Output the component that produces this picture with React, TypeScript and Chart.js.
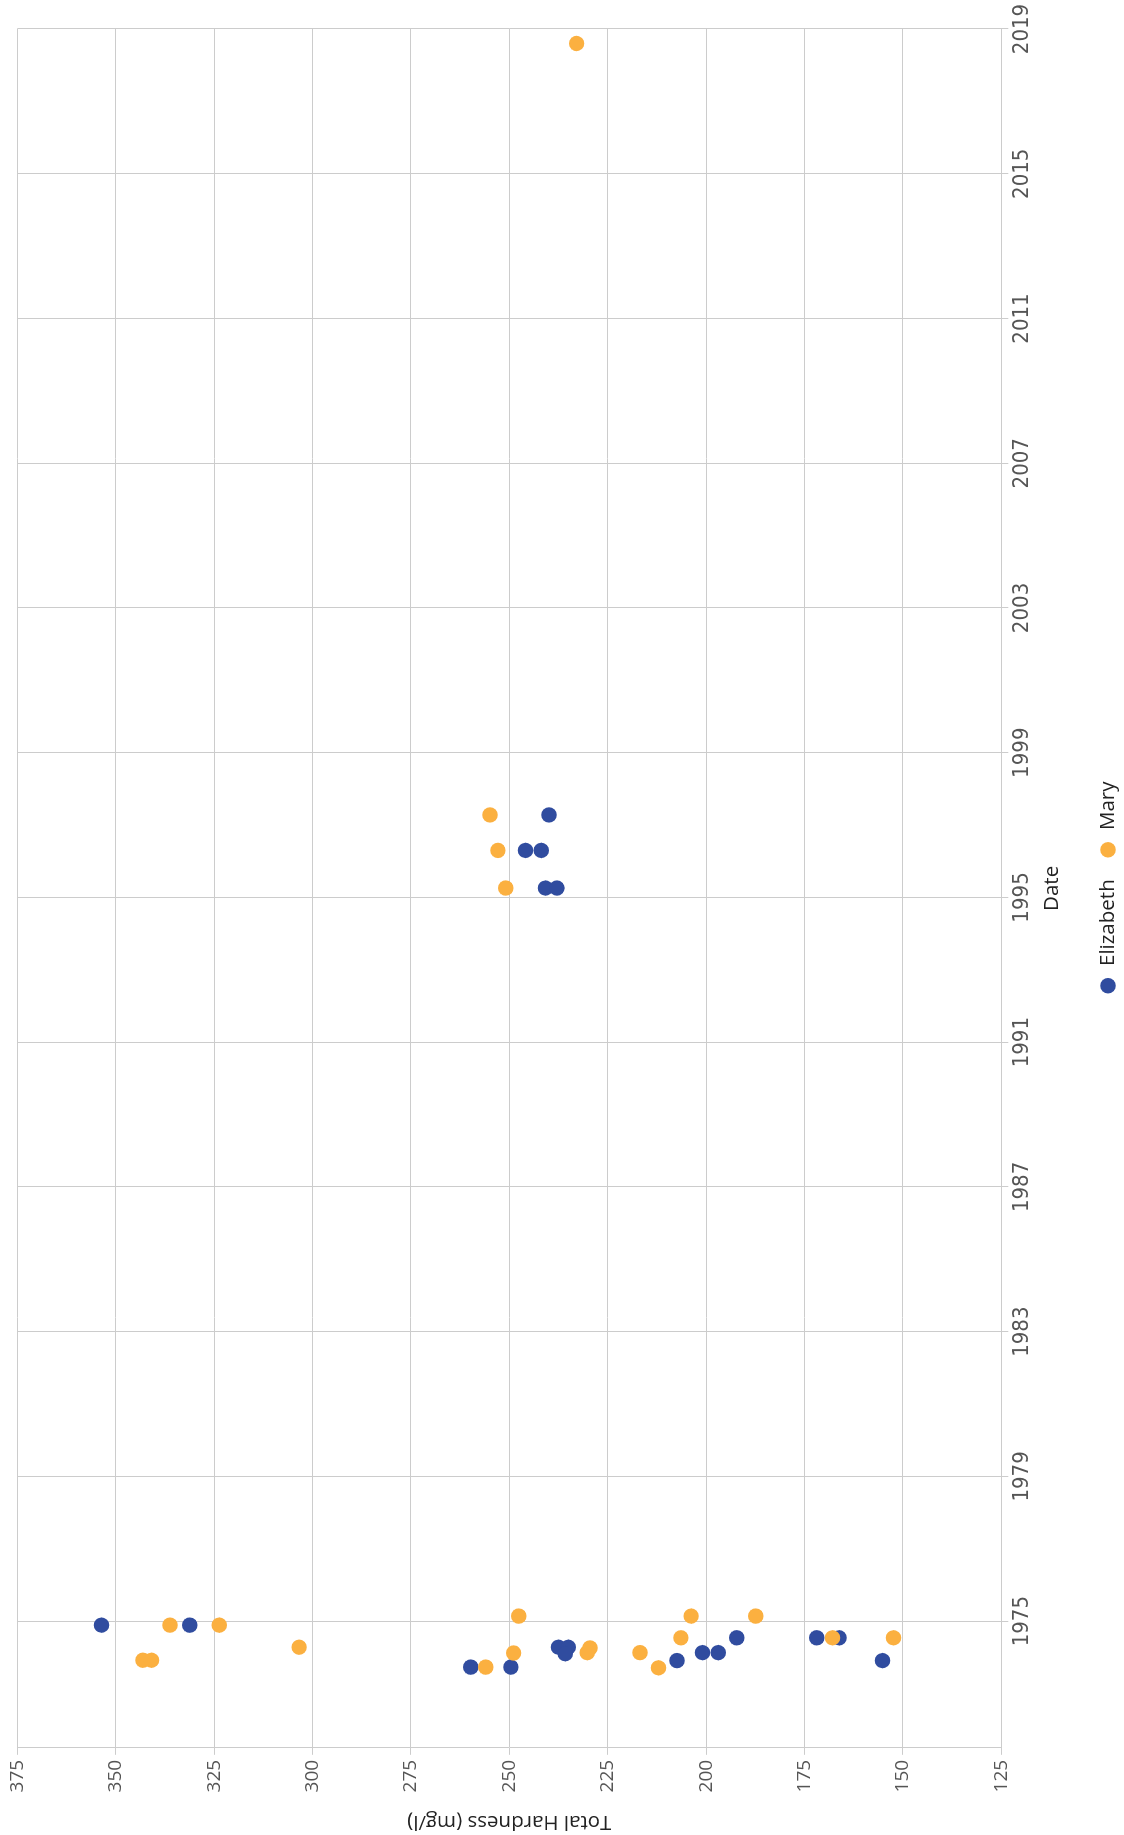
import React, { useEffect, useRef } from 'react';
import { Chart, registerables } from 'chart.js';

Chart.register(...registerables);

// Series names and colours
const seriesNames = ['Elizabeth', 'Mary'];
const seriesColors = ['#304c9f', '#fbb040'];

// Elizabeth: sample date (decimal year) and total hardness (mg/l)
const elizabethDates = [
  1974.89, 1974.89, 1973.73, 1973.73, 1974.28, 1974.28, 1974.10, 1973.91, 1974.13, 1974.13,
  1974.54, 1974.54, 1974.54, 1973.91, 1997.28, 1996.30, 1996.30, 1995.26, 1995.26,
];
const elizabethHardness = [
  353.6, 331.2, 259.8, 249.6, 237.5, 235.0, 235.8, 207.4, 200.9, 196.9,
  192.2, 171.9, 166.2, 155.2, 239.9, 245.9, 241.9, 240.8, 237.9,
];

// Mary: sample date (decimal year) and total hardness (mg/l)
const maryDates = [
  1974.89, 1974.89, 1973.92, 1973.92, 1974.28, 1973.73, 1974.12, 1975.14, 1974.26, 1974.13,
  1974.13, 1973.71, 1974.54, 1975.14, 1975.14, 1974.54, 1974.54, 1997.28, 1996.30, 1995.26,
  2018.60,
];
const maryHardness = [
  336.2, 323.7, 343.1, 340.9, 303.4, 256.0, 248.9, 247.6, 229.5, 230.2,
  216.8, 212.1, 206.4, 203.8, 187.4, 167.9, 152.4, 254.9, 252.9, 250.9,
  232.9,
];

// Axis ticks
const dateTicks = [1975, 1979, 1983, 1987, 1991, 1995, 1999, 2003, 2007, 2011, 2015, 2019];
const dateMin = 1971.5;
const dateMax = 2019;
const hardnessMin = 125;
const hardnessMax = 375;
const hardnessStep = 25;

const FONT = "'Open Sans', 'Noto Sans', sans-serif";
const NARROW = "'Liberation Sans Narrow', 'DejaVu Sans Condensed', sans-serif";
const GRID = '#cccccc';
const LABEL_SIZE = 20.5;

export default function App() {
  const ref = useRef<HTMLCanvasElement>(null);

  useEffect(() => {
    const canvas = ref.current;
    if (!canvas) return;
    const chart = new Chart(canvas, {
      type: 'scatter',
      data: {
        datasets: [
          {
            label: seriesNames[0],
            data: elizabethDates.map((d, i) => ({ x: d, y: elizabethHardness[i] })),
            backgroundColor: seriesColors[0],
            borderColor: seriesColors[0],
            borderWidth: 0,
            pointRadius: 7.7,
            pointHoverRadius: 7.7,
            pointBorderWidth: 0,
            order: 1,
          },
          {
            label: seriesNames[1],
            data: maryDates.map((d, i) => ({ x: d, y: maryHardness[i] })),
            backgroundColor: seriesColors[1],
            borderColor: seriesColors[1],
            borderWidth: 0,
            pointRadius: 7.7,
            pointHoverRadius: 7.7,
            pointBorderWidth: 0,
            order: 0,
          },
        ],
      },
      options: {
        responsive: false,
        animation: false,
        devicePixelRatio: 1,
        events: [],
        layout: { padding: { top: 17.3, right: 29, bottom: -4.25, left: 0 } },
        plugins: {
          tooltip: { enabled: false },
          legend: {
            position: 'bottom',
            fullSize: false,
            labels: {
              usePointStyle: true,
              pointStyle: 'circle',
              boxWidth: 19,
              boxHeight: 11,
              padding: 20,
              color: '#222',
              font: { family: FONT, size: LABEL_SIZE },
              sort: (a: any, b: any) => a.datasetIndex - b.datasetIndex,
            },
          },
        },
        scales: {
          x: {
            type: 'linear',
            position: 'bottom',
            min: dateMin,
            max: dateMax,
            afterBuildTicks: (s: any) => {
              s.ticks = dateTicks.map((v) => ({ value: v }));
            },
            afterFit: (s: any) => {
              s.height = 76.45;
            },
            ticks: {
              autoSkip: false,
              maxRotation: 0,
              minRotation: 0,
              padding: 3,
              color: '#555',
              font: { family: NARROW, size: 22, lineHeight: 1 },
              callback: (v: any) => String(v),
            },
            grid: { color: GRID, lineWidth: 1, tickLength: 7, drawTicks: true },
            border: { display: true, color: GRID, width: 1 },
            title: {
              display: true,
              text: 'Date',
              color: '#222',
              font: { family: FONT, size: LABEL_SIZE, lineHeight: 1.1 },
              padding: { top: 4, bottom: 14.8 },
            },
          },
          y: {
            type: 'linear',
            position: 'left',
            min: hardnessMin,
            max: hardnessMax,
            afterFit: (s: any) => {
              s.width = 87.2;
            },
            ticks: {
              stepSize: hardnessStep,
              padding: 5,
              color: '#555',
              font: { family: FONT, size: 19 },
            },
            grid: { color: GRID, lineWidth: 1, tickLength: 7, drawTicks: true },
            border: { display: true, color: GRID, width: 1 },
            title: {
              display: true,
              text: 'Total Hardness (mg/l)',
              color: '#222',
              font: { family: FONT, size: LABEL_SIZE, lineHeight: 1.1 },
              padding: { top: 2, bottom: 4 },
            },
          },
        },
      },
    } as any);
    return () => chart.destroy();
  }, []);

  return (
    <div
      style={{
        position: 'absolute',
        left: 0,
        top: 0,
        width: 1124,
        height: 1835,
        overflow: 'hidden',
        background: '#ffffff',
      }}
    >
      <div
        style={{
          position: 'absolute',
          left: 0,
          top: 0,
          width: 1835,
          height: 1124,
          transformOrigin: '0 0',
          transform: 'translate(0px, 1835px) rotate(-90deg)',
        }}
      >
        <canvas ref={ref} width={1835} height={1124} style={{ width: 1835, height: 1124, display: 'block' }} />
      </div>
    </div>
  );
}
